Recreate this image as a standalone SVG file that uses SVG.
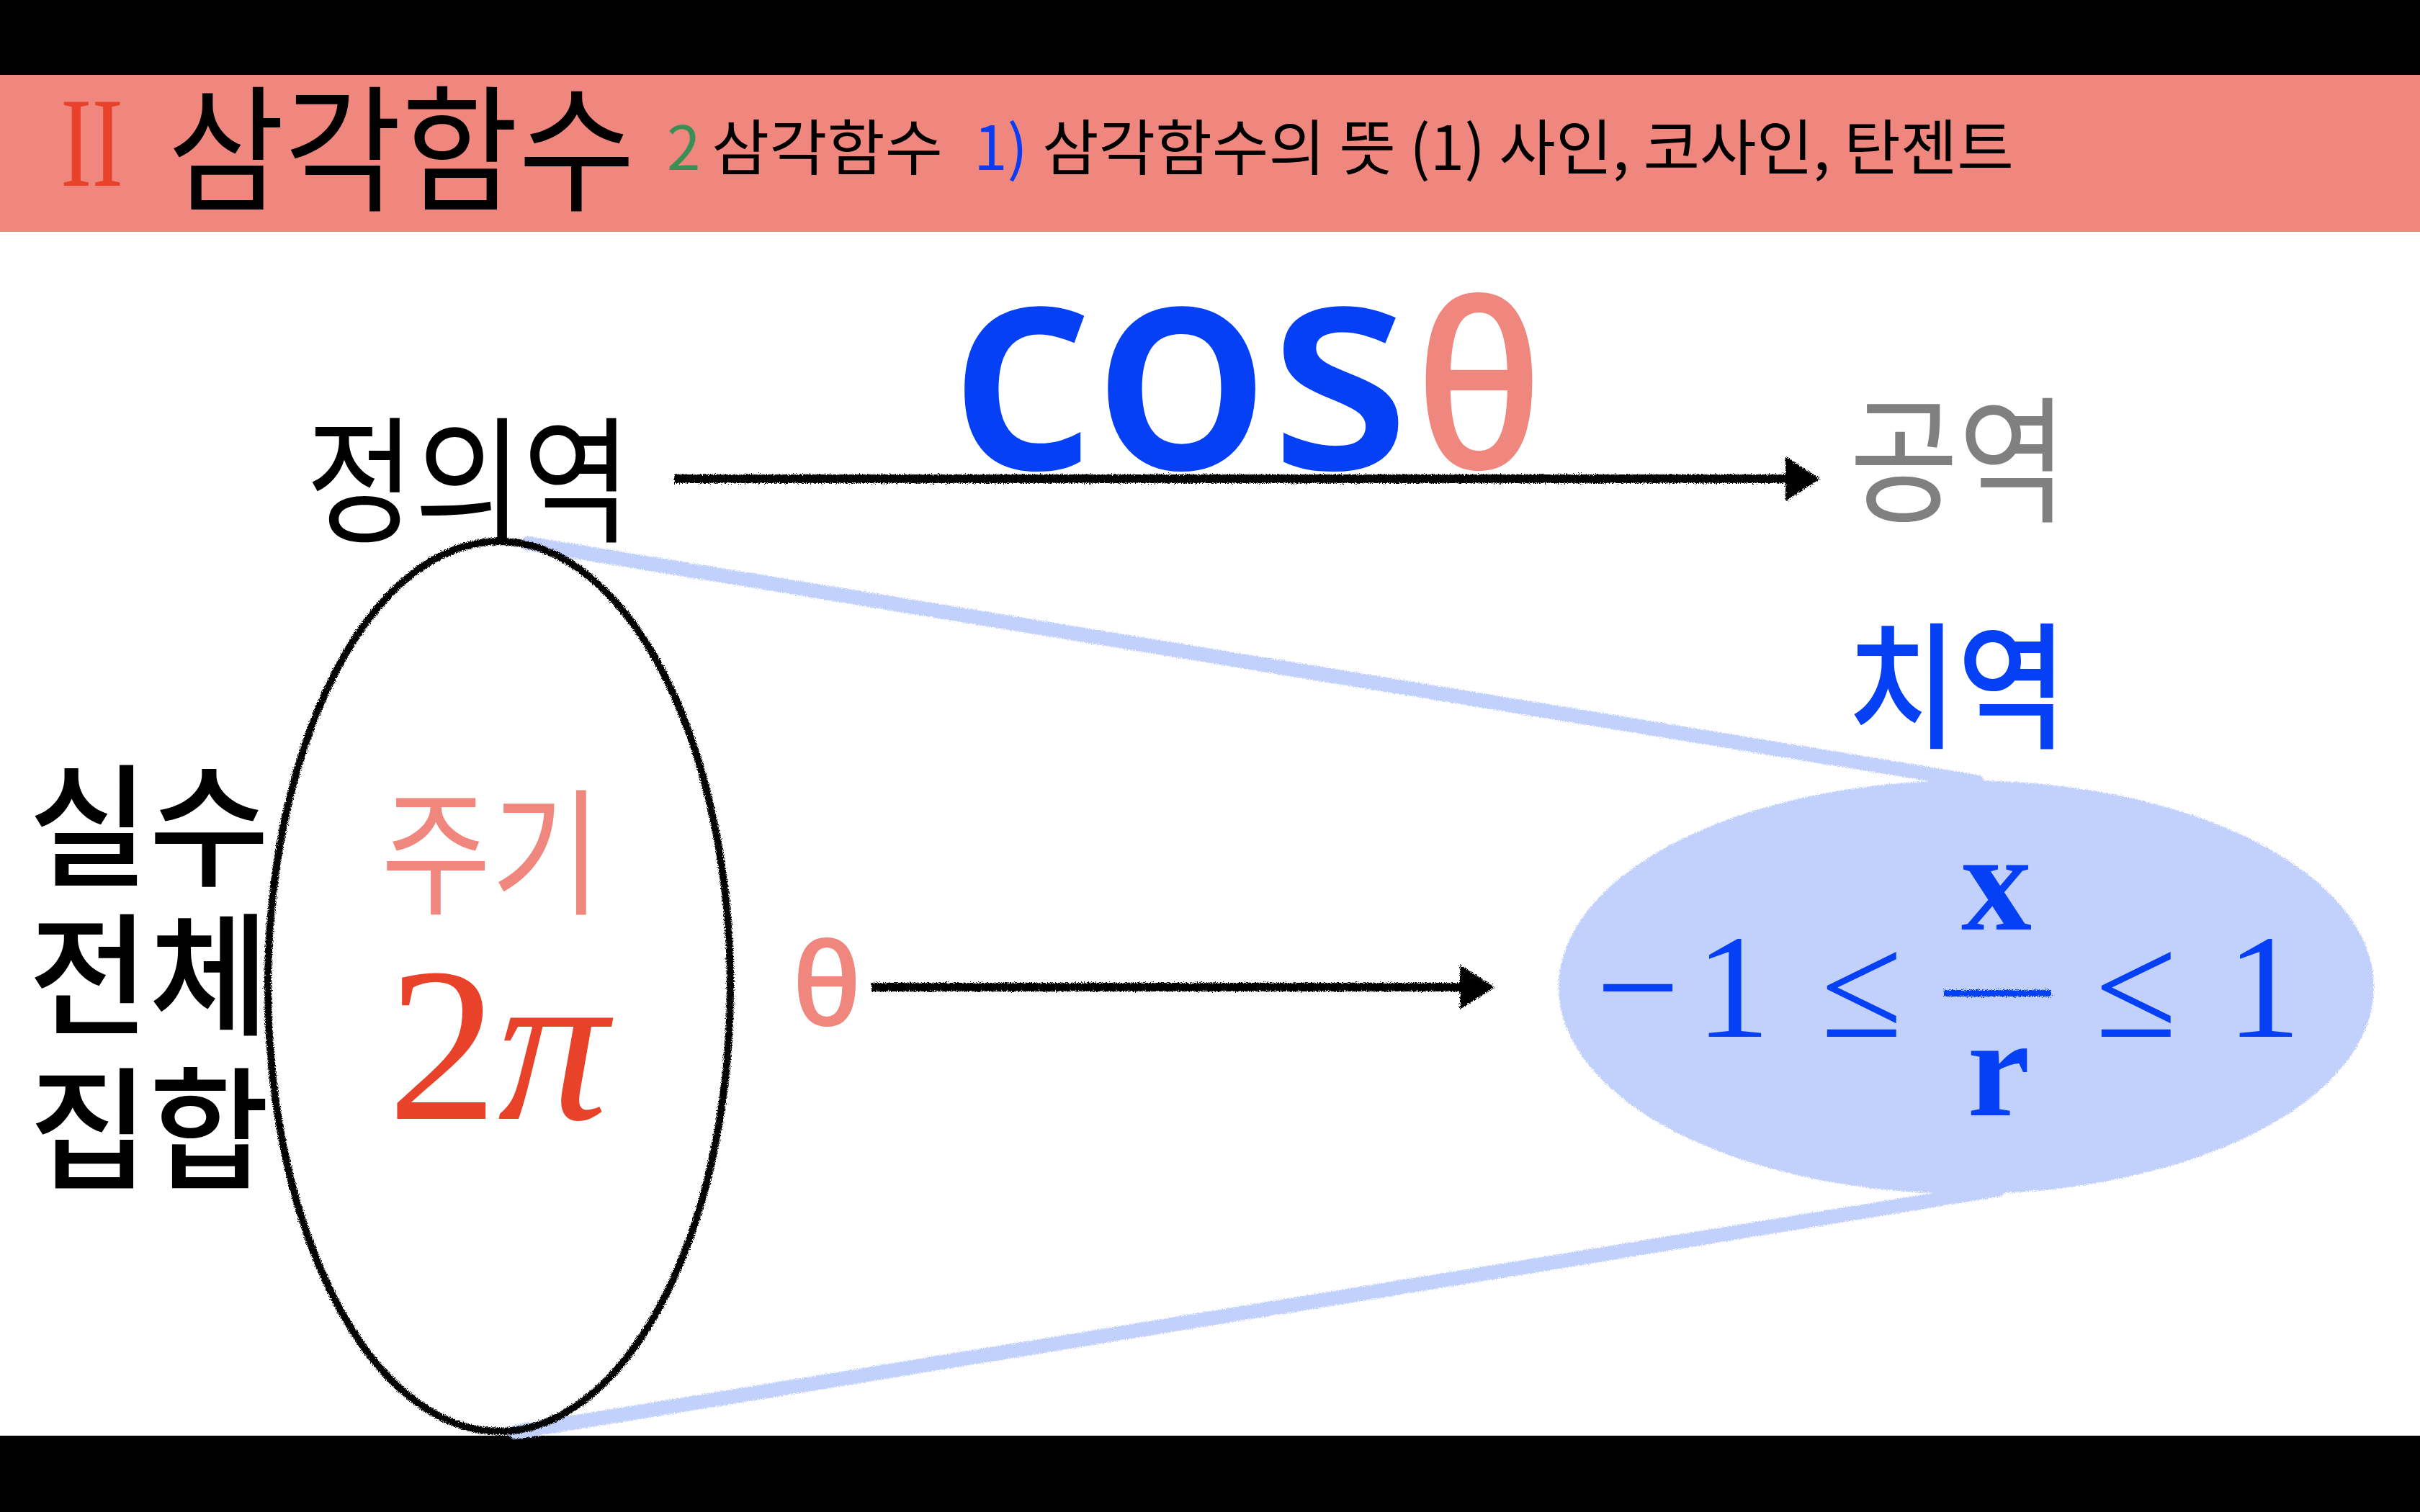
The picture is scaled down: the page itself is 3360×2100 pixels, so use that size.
<svg xmlns="http://www.w3.org/2000/svg" width="3360" height="2100" viewBox="0 0 3360 2100">
<style>
.kr{font-family:"Noto Sans CJK KR","Noto Sans",sans-serif;}
.ser{font-family:"Liberation Serif","DejaVu Serif",serif;}
.lat{font-family:"Open Sans","Noto Sans",sans-serif;}
.blk{fill:#000;}
.blue{fill:#0540F5;}
.salmon{fill:#F0877F;}
.chalkline{stroke:#000;stroke-width:12;fill:none;}
.hl{stroke:#C2D0FC;stroke-width:20;fill:none;stroke-linecap:round;}
</style>
<defs>
<filter id="chalk" filterUnits="userSpaceOnUse" x="0" y="0" width="3360" height="2100">
<feTurbulence type="fractalNoise" baseFrequency="0.9" numOctaves="2" seed="3" result="n"/>
<feDisplacementMap in="SourceGraphic" in2="n" scale="7" xChannelSelector="R" yChannelSelector="G"/>
</filter>
<marker id="ah" markerUnits="userSpaceOnUse" viewBox="0 0 48 62" markerWidth="48" markerHeight="62" refX="1" refY="31" orient="auto">
<path d="M0,0 L48,31 L0,62 Z" fill="#000"/>
</marker>
</defs>
<rect x="0" y="0" width="3360" height="2100" fill="#fff"/>
<g id="header">
<rect x="0" y="0" width="3360" height="104" fill="#000"/>
<rect x="0" y="104" width="3360" height="218" fill="#F0877F"/>
<text class="ser" x="84" y="258" font-size="178" fill="#E8432A" textLength="87" lengthAdjust="spacingAndGlyphs">II</text>
<text class="kr" x="233" y="278" font-size="190" fill="#000" textLength="649" lengthAdjust="spacingAndGlyphs">삼각함수</text>
<text class="kr" font-size="84" fill="#000"><tspan x="926" y="236" fill="#3A8F55">2</tspan><tspan x="988" y="236" textLength="321" lengthAdjust="spacingAndGlyphs">삼각함수</tspan><tspan x="1352" y="236" fill="#0A3CF5">1)</tspan><tspan x="1447" y="236" textLength="1349" lengthAdjust="spacingAndGlyphs">삼각함수의 뜻 (1) 사인, 코사인, 탄젠트</tspan></text>
</g>
<rect x="0" y="1994" width="3360" height="106" fill="#000"/>
<g id="connectors">
<line class="hl" x1="733" y1="755" x2="2745" y2="1086" filter="url(#chalk)"/>
<line class="hl" x1="716" y1="1989" x2="2775" y2="1652" filter="url(#chalk)"/>
<line class="chalkline" x1="936" y1="665" x2="2480" y2="665" marker-end="url(#ah)" filter="url(#chalk)"/>
<line class="chalkline" x1="1210" y1="1371" x2="2028" y2="1371" marker-end="url(#ah)" filter="url(#chalk)"/>
</g>
<g id="domain-set">
<ellipse cx="693" cy="1370" rx="321" ry="618" fill="none" stroke="#000" stroke-width="10" filter="url(#chalk)"/>
<text class="kr salmon" x="529" y="1255" font-size="190" textLength="306" lengthAdjust="spacingAndGlyphs">주기</text>
<text class="ser" x="538" y="1554" font-size="306" fill="#E8432A">2<tspan font-style="italic">π</tspan></text>
</g>
<g id="range-set">
<ellipse cx="2730" cy="1371" rx="566" ry="287" fill="#C2D0FC" filter="url(#chalk)"/>
<g class="ser blue" font-size="206" text-anchor="middle">
<text x="2274" y="1440">−</text>
<text x="2406" y="1440">1</text>
<text x="2585" y="1440">≤</text>
<text x="2772" y="1291" font-size="196" font-weight="bold">x</text>
<text x="2775" y="1549" font-size="196" font-weight="bold">r</text>
<text x="2966" y="1440">≤</text>
<text x="3143" y="1440">1</text>
</g>
<rect x="2699" y="1375" width="149" height="9" fill="#0540F5" filter="url(#chalk)"/>
</g>
<g id="label-domain"><text class="kr blk" x="425" y="738" font-size="190" textLength="451" lengthAdjust="spacingAndGlyphs">정의역</text></g>
<g id="label-codomain"><text class="kr" x="2568" y="710" font-size="190" fill="#808080" textLength="302" lengthAdjust="spacingAndGlyphs">공역</text></g>
<g id="label-range"><text class="kr blue" x="2565" y="1024" font-size="190" font-weight="500" textLength="305" lengthAdjust="spacingAndGlyphs">치역</text></g>
<g id="label-reals">
<text class="kr blk" font-size="184" font-weight="500">
<tspan x="40" y="1216" textLength="334" lengthAdjust="spacingAndGlyphs">실수</tspan>
<tspan x="40" y="1423" textLength="334" lengthAdjust="spacingAndGlyphs">전체</tspan>
<tspan x="40" y="1637" textLength="334" lengthAdjust="spacingAndGlyphs">집합</tspan>
</text>
</g>
<g id="title-cos">
<text class="lat blue" x="1319" y="651" font-size="410" font-weight="600" textLength="639" lengthAdjust="spacingAndGlyphs">cos</text>
<text class="lat salmon" x="1965" y="651" font-size="320" font-weight="600" textLength="177" lengthAdjust="spacingAndGlyphs">θ</text>
</g>
<g id="label-theta"><text class="lat salmon" x="1100" y="1424" font-size="160" font-weight="600" textLength="96" lengthAdjust="spacingAndGlyphs">θ</text></g>
</svg>
